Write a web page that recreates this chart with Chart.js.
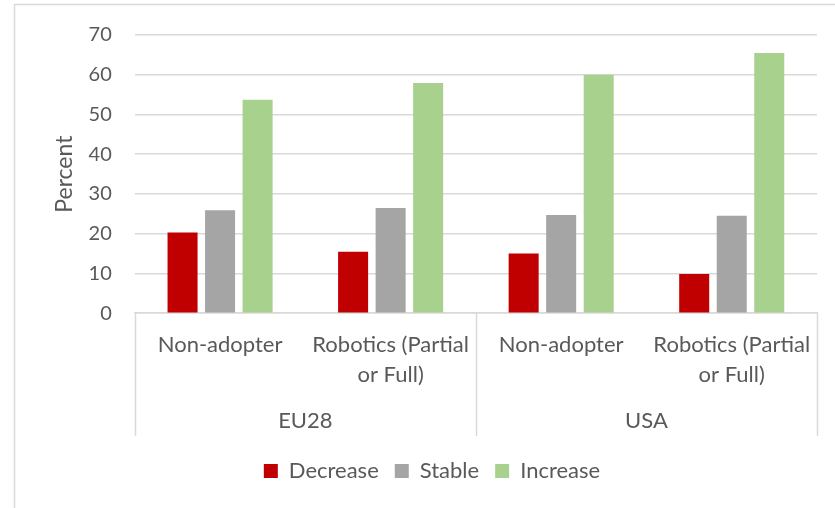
<!DOCTYPE html>
<html>
<head>
<meta charset="utf-8">
<script src="https://cdn.jsdelivr.net/npm/chart.js@4/dist/chart.umd.min.js"></script>
<style>
  html, body { margin: 0; padding: 0; background: #fff; }
  #wrap { position: relative; width: 835px; height: 508px; }
</style>
</head>
<body>
<div id="wrap"><canvas id="chart" width="835" height="508"></canvas></div>
<script>
// categories and groups
const categories = [['Non-adopter'], ['Robotics (Partial', 'or Full)'], ['Non-adopter'], ['Robotics (Partial', 'or Full)']];
const regions = ['EU28', 'USA'];

// series (percent)
const decrease = [20.3, 15.5, 15.0, 9.9];
const stable = [25.9, 26.5, 24.7, 24.5];
const increase = [53.7, 57.9, 60.0, 65.5];

const yTicks = [0, 10, 20, 30, 40, 50, 60, 70];

const lineGray = '#d9d9d9';
const textGray = '#595959';
const font = "Lato, 'Open Sans', sans-serif";
const groupExtra = 8; // blank space under the region labels, outside the separators

// chart.js reserves the tick padding twice, give one back
function trimPadding(axis){
  if(axis.isHorizontal()) axis.height -= axis.options.ticks.padding;
  else axis.width -= axis.options.ticks.padding;
}

// draws the frame plus the group separator lines under the axis
const frameLines = {
  id: 'frameLines',
  afterDraw(chart){
    const ctx = chart.ctx;
    const x = chart.scales.x;
    const x2 = chart.scales.x2;
    const area = chart.chartArea;
    ctx.save();
    ctx.strokeStyle = lineGray;
    ctx.lineWidth = 1.5;
    // outer frame (cropped on right and bottom)
    ctx.beginPath();
    ctx.moveTo(14.5, chart.height);
    ctx.lineTo(14.5, 4.5);
    ctx.lineTo(chart.width, 4.5);
    ctx.stroke();
    // separators
    const perGroup = categories.length / regions.length;
    const bounds = [x.left];
    for(let g = 1; g < regions.length; g++){
      bounds.push((x.getPixelForValue(g * perGroup - 1) + x.getPixelForValue(g * perGroup)) / 2);
    }
    bounds.push(x.right);
    ctx.beginPath();
    bounds.forEach(b => {
      const px = Math.round(b) + 0.5;
      ctx.moveTo(px, area.bottom);
      ctx.lineTo(px, x2.bottom - groupExtra);
    });
    ctx.stroke();
    ctx.restore();
  }
};

new Chart(document.getElementById('chart'), {
  type: 'bar',
  data: {
    labels: categories,
    datasets: [
      { label: 'Decrease', data: decrease, backgroundColor: '#c00000' },
      { label: 'Stable', data: stable, backgroundColor: '#a5a5a5' },
      { label: 'Increase', data: increase, backgroundColor: '#a9d18e' }
    ]
  },
  options: {
    responsive: false,
    animation: false,
    devicePixelRatio: 1,
    layout: { padding: { top: 25, right: 18, left: 47, bottom: 16 } },
    datasets: { bar: { categoryPercentage: 0.66, barPercentage: 0.8 } },
    plugins: {
      legend: {
        position: 'bottom',
        labels: {
          font: { family: font, size: 22 },
          color: textGray,
          boxWidth: 14,
          boxHeight: 14,
          padding: 16
        }
      },
      tooltip: { enabled: false }
    },
    scales: {
      y: {
        min: 0,
        max: 70,
        afterBuildTicks(axis){ axis.ticks = yTicks.map(v => ({ value: v })); },
        afterFit: trimPadding,
        grid: { color: lineGray, lineWidth: 1.5, drawTicks: false },
        border: { display: false },
        ticks: { font: { family: font, size: 20 }, color: textGray, padding: 23 },
        title: {
          display: true,
          text: 'Percent',
          font: { family: font, size: 23 },
          color: textGray,
          padding: { top: 4, bottom: 10 }
        }
      },
      x: {
        afterFit: trimPadding,
        grid: { display: false, drawTicks: false },
        border: { display: true, color: lineGray, width: 1.5 },
        ticks: {
          font: { family: font, size: 22, lineHeight: 1.36 },
          color: textGray,
          maxRotation: 0,
          autoSkip: false,
          padding: 17
        }
      },
      x2: {
        type: 'category',
        position: 'bottom',
        labels: regions,
        offset: true,
        grid: { display: false, drawTicks: false },
        border: { display: false },
        ticks: { font: { family: font, size: 22, lineHeight: 1.36 }, color: textGray, padding: 16 },
        afterFit(axis){ trimPadding(axis); axis.height += groupExtra; }
      }
    }
  },
  plugins: [frameLines]
});
</script>
</body>
</html>
